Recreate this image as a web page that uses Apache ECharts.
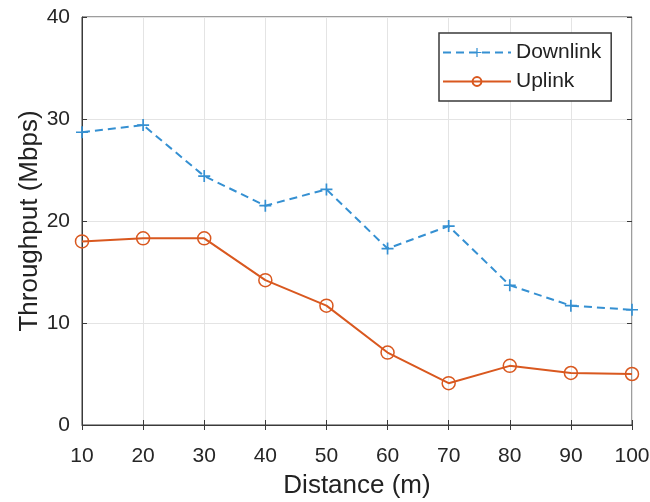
<!DOCTYPE html>
<html>
<head>
<meta charset="utf-8">
<script src="https://cdn.jsdelivr.net/npm/echarts@6/dist/echarts.min.js"></script>
<style>
  html, body { margin: 0; padding: 0; background: #fff; }
  #chart { width: 650px; height: 502px; }
</style>
</head>
<body>
<div id="chart"></div>
<script>
const distances = [10, 20, 30, 40, 50, 60, 70, 80, 90, 100]
const downlink = [28.7, 29.4, 24.4, 21.5, 23.1, 17.3, 19.5, 13.7, 11.7, 11.3]
const uplink = [18.0, 18.3, 18.3, 14.2, 11.7, 7.1, 4.1, 5.8, 5.1, 5.0]

const blue = '#3590d2'
const orange = '#d9581f'
const font = 'Liberation Sans, Arial, sans-serif'
const plus = 'path://M4.3,0H5.7V4.3H10V5.7H5.7V10H4.3V5.7H0V4.3H4.3Z'

const toPairs = ys => distances.map((d, i) => [d, ys[i]])

const chart = echarts.init(document.getElementById('chart'))
chart.setOption({
  animation: false,
  textStyle: { fontFamily: font },
  grid: {
    left: 82, right: 18, top: 17, bottom: 77,
    outerBoundsMode: 'none',
    show: true, borderColor: '#3a3a3a', borderWidth: 1
  },
  legend: {
    orient: 'vertical',
    left: 439, top: 33,
    padding: [9, 10, 9, 3],
    itemGap: 8,
    itemWidth: 68, itemHeight: 11,
    backgroundColor: '#fff',
    borderColor: '#3a3a3a', borderWidth: 1.5,
    textStyle: { fontSize: 21, color: '#222', fontFamily: font },
    data: ['Downlink', 'Uplink']
  },
  xAxis: [{
    type: 'value', min: 10, max: 100, interval: 10,
    name: 'Distance (m)', nameLocation: 'middle', nameGap: 48,
    nameMoveOverlap: false,
    nameTextStyle: { fontSize: 26, color: '#222' },
    axisLine: { lineStyle: { color: '#3a3a3a' } },
    axisTick: { inside: true, length: 5, lineStyle: { color: '#3a3a3a' } },
    axisLabel: { fontSize: 21, color: '#262626', margin: 21 },
    splitLine: { lineStyle: { color: '#e4e4e4' } }
  }, {
    type: 'value', min: 10, max: 100, interval: 10, position: 'top',
    axisLine: { show: false },
    axisTick: { inside: true, length: 5, lineStyle: { color: '#3a3a3a' } },
    axisLabel: { show: false }, splitLine: { show: false }
  }],
  yAxis: [{
    type: 'value', min: 0, max: 40, interval: 10,
    name: 'Throughput (Mbps)', nameLocation: 'middle', nameGap: 39,
    nameMoveOverlap: false,
    nameTextStyle: { fontSize: 26, color: '#222' },
    axisLine: { show: true, lineStyle: { color: '#3a3a3a' } },
    axisTick: { show: true, inside: true, length: 5, lineStyle: { color: '#3a3a3a' } },
    axisLabel: { fontSize: 21, color: '#262626', margin: 12 },
    splitLine: { lineStyle: { color: '#e4e4e4' } }
  }, {
    type: 'value', min: 0, max: 40, interval: 10, position: 'right',
    axisLine: { show: false },
    axisTick: { show: true, inside: true, length: 5, lineStyle: { color: '#3a3a3a' } },
    axisLabel: { show: false }, splitLine: { show: false }
  }],
  series: [{
    name: 'Downlink', type: 'line',
    data: toPairs(downlink),
    symbol: plus, symbolSize: 12,
    lineStyle: { color: blue, width: 2, type: [8, 5] },
    itemStyle: { color: blue }
  }, {
    name: 'Uplink', type: 'line',
    data: toPairs(uplink),
    symbol: 'circle', symbolSize: 13,
    lineStyle: { color: orange, width: 2 },
    itemStyle: { color: 'rgba(255,255,255,0)', borderColor: orange, borderWidth: 1.5 }
  }]
})
</script>
</body>
</html>
